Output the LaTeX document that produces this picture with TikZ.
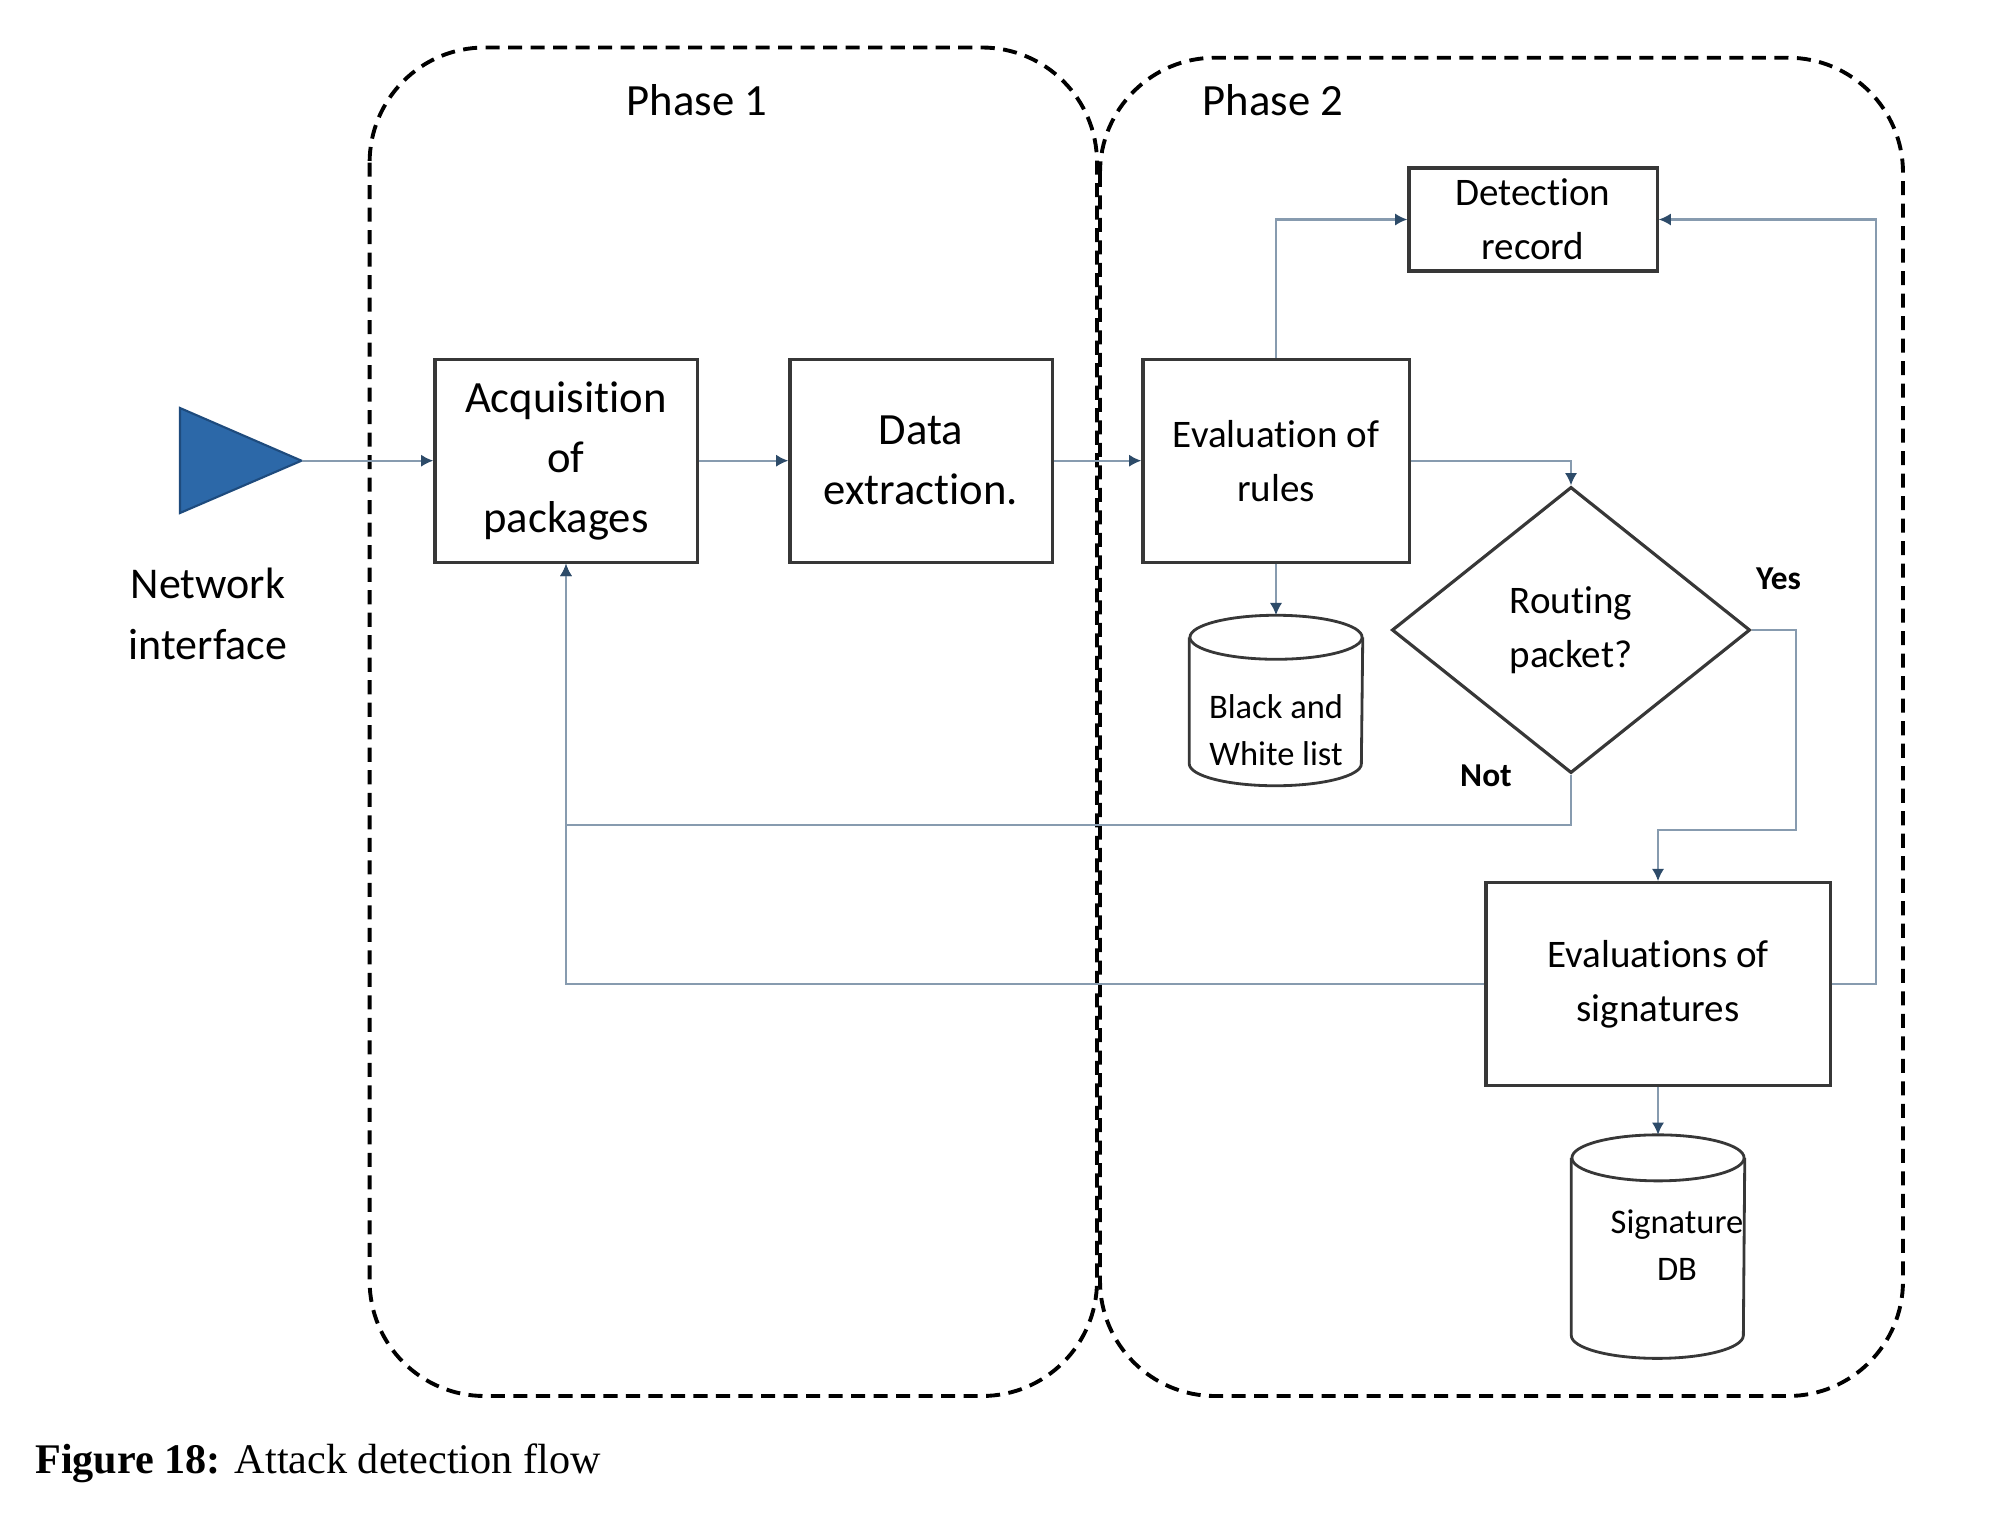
\documentclass[tikz,border=0pt]{standalone}
\usepackage{fontspec}
\setmainfont[Ligatures=NoCommon]{Carlito}
\newfontfamily\capfont{Liberation Serif}
\usetikzlibrary{shapes.geometric,arrows.meta}
\definecolor{boxline}{RGB}{55,55,55}
\definecolor{connline}{RGB}{135,155,175}
\definecolor{tipcol}{RGB}{45,75,105}
\definecolor{tribl}{RGB}{44,104,168}
\definecolor{tribd}{RGB}{30,75,125}
\begin{document}
\begin{tikzpicture}[x=0.01cm,y=-0.01cm,
 phase/.style={draw=black, line width=1.1pt, dash pattern=on 4pt off 2.4pt, rounded corners=1.15cm},
 procbox/.style={draw=boxline, line width=0.9pt, align=center, inner sep=0pt},
 dbline/.style={draw=boxline, line width=0.8pt},
 conn/.style={draw=connline, line width=0.6pt, -{Latex[length=3.5pt,width=3.5pt,color=tipcol]}},
 bigtxt/.style={font=\fontsize{12.7}{17}\selectfont},
 midtxt/.style={font=\fontsize{11.1}{15.4}\selectfont},
 smalltxt/.style={font=\fontsize{9.8}{13.5}\selectfont},
 lbl/.style={font=\bfseries\fontsize{9.5}{11}\selectfont},
]
\useasboundingbox (0,0) rectangle (2012,1512);

% phases
\draw[phase] (369.6,47.5) rectangle (1097,1396);
\draw[phase] (1100,57.7) rectangle (1903,1396);
\node[bigtxt] (ph1) at (697,100) {Phase 1};
\node[bigtxt] (ph2) at (1273,100) {Phase 2};

% network interface
\draw[draw=tribd, fill=tribl, line width=0.6pt] (180,408) -- (301.5,460.7) -- (180,513) -- cycle;
\coordinate (tip) at (301.5,460.7);
\node[align=center, font=\fontsize{12.5}{17.5}\selectfont] (net) at (208,614) {Network\\interface};

% boxes
\node[procbox, bigtxt, minimum width=2.62cm, minimum height=2.03cm] (acq) at (566,460.7) {Acquisition\\of\\packages};
\node[procbox, bigtxt, minimum width=2.62cm, minimum height=2.03cm] (data) at (921,460.7) {Data\\extraction.};
\node[procbox, midtxt, minimum width=2.66cm, minimum height=2.03cm] (rules) at (1276,460.7) {Evaluation of\\rules};
\node[procbox, midtxt, minimum width=2.48cm, minimum height=1.03cm] (detect) at (1533,219.5) {Detection\\record};
\node[procbox, midtxt, minimum width=3.44cm, minimum height=2.03cm] (sig) at (1658,984.3) {Evaluations of\\signatures};
\node[diamond, draw=boxline, line width=0.9pt, inner sep=0pt, minimum width=3.58cm, minimum height=2.86cm, align=center, midtxt] (route) at (1571,630) {Routing\\packet?};

% cylinders
\node[minimum width=1.72cm, minimum height=1.69cm, inner sep=0pt] (bw) at (1276,700.5) {};
\draw[dbline] ([yshift=-0.22cm]bw.north west) -- ([yshift=0.22cm]bw.south west)
  arc[start angle=180, end angle=360, x radius=0.86cm, y radius=0.22cm] -- ([yshift=-0.22cm]bw.north east);
\draw[dbline] ([yshift=-0.22cm]bw.north) ellipse [x radius=0.86cm, y radius=0.22cm];
\node[smalltxt, align=center] (bwtxt) at (1276,730) {Black and\\White list};

\node[minimum width=1.72cm, minimum height=2.22cm, inner sep=0pt] (sdb) at (1658,1246.6) {};
\draw[dbline] ([yshift=-0.23cm]sdb.north west) -- ([yshift=0.23cm]sdb.south west)
  arc[start angle=180, end angle=360, x radius=0.86cm, y radius=0.23cm] -- ([yshift=-0.23cm]sdb.north east);
\draw[dbline] ([yshift=-0.23cm]sdb.north) ellipse [x radius=0.86cm, y radius=0.23cm];
\node[smalltxt, align=center] (sdbtxt) at (1677,1245) {Signature\\DB};

% labels
\node[lbl] (yes) at (1778.5,578.7) {Yes};
\node[lbl] (no) at (1486,776) {Not};

% junctions
\coordinate (j1) at (1571,825);
\coordinate (j2) at (1796,830);
\coordinate (j3) at (1876,984.3);

% connectors
\draw[conn] (tip) -- (acq.west);
\draw[conn] (acq.east) -- (data.west);
\draw[conn] (data.east) -- (rules.west);
\draw[conn] (rules.east) -| (route.north);
\draw[conn] (rules.north) |- (detect.west);
\draw[conn] (rules.south) -- (bw.north);
\draw[conn] (route.south) -- (j1) -| (acq.south);
\draw[conn] (route.east) -| (j2) -| (sig.north);
\draw[conn] (sig.west) -| (acq.south);
\draw[conn] (sig.east) -- (j3) |- (detect.east);
\draw[conn] (sig.south) -- (sdb.north);

% caption
\node[anchor=west, font=\capfont\fontsize{12}{14}\selectfont, inner sep=0pt] (cap) at (34.6,1463) {\textbf{Figure 18:} Attack detection flow};
\end{tikzpicture}
\end{document}
